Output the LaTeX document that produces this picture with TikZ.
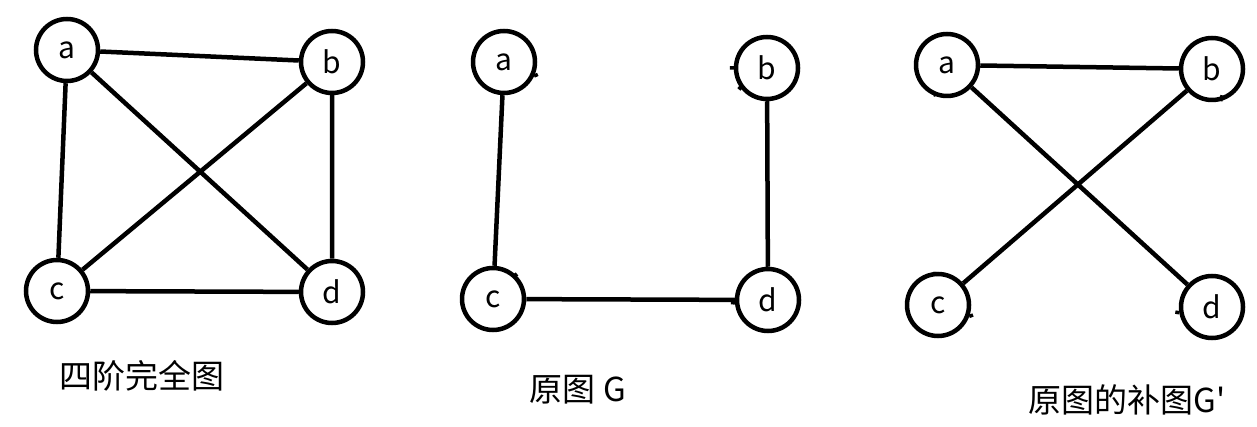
\documentclass[tikz,border=0pt]{standalone}
\usepackage{fontspec}
\setmainfont{Noto Sans CJK SC}
\tikzset{
  vtx/.style={draw,circle,line width=4.5pt,minimum size=62pt,inner sep=0pt,
    font=\fontsize{30}{34}\selectfont},
  edge/.style={line width=4.5pt},
  nick/.style={line width=3.5pt},
  gtitle/.style={font=\fontsize{33}{38}\selectfont}
}
\begin{document}
\begin{tikzpicture}[x=1pt,y=-1pt]
  \useasboundingbox (0,0) rectangle (1257,427);
  % complete graph on four vertices
  \foreach \n/\x/\y in {a/67/50,b/332/62,c/57/291,d/332/292}
    \node[vtx] (k\n) at (\x,\y) {\n};
  \draw[edge] (ka) -- (kb) (ka) -- (kc) (ka) -- (kd)
              (kb) -- (kc) (kb) -- (kd) (kc) -- (kd);
  \node[gtitle] (ktitle) at (142,376) {四阶完全图};
  % original graph G
  \foreach \n/\x/\y in {a/504/62,b/767/68,c/493/299,d/768/300}
    \node[vtx] (g\n) at (\x,\y) {\n};
  \draw[edge] (ga) -- (gc) (gb) -- (gd) (gc) -- (gd);
  \draw[nick] (ga.-25) -- ++(-25:4) (gb.180) -- ++(180:4)
              (gb.-140) -- ++(-140:4) (gc.50) -- ++(50:4) (gd.185) -- ++(185:4);
  \node[gtitle] (gtitle) at (578,390) {原图 G};
  % complement of G
  \foreach \n/\x/\y in {a/947/65,b/1212/69,c/938/305,d/1212/307}
    \node[vtx] (h\n) at (\x,\y) {\n};
  \draw[edge] (ha) -- (hb) (ha) -- (hd) (hb) -- (hc);
  \draw[nick] (ha.-110) -- ++(-110:4) (hb.-75) -- ++(-75:6)
              (hc.95) -- ++(95:4) (hc.-20) -- ++(-20:4) (hd.-170) -- ++(-170:4);
  \node[gtitle] (htitle) at (1127,400) {原图的补图G\textquotesingle};
\end{tikzpicture}
\end{document}
